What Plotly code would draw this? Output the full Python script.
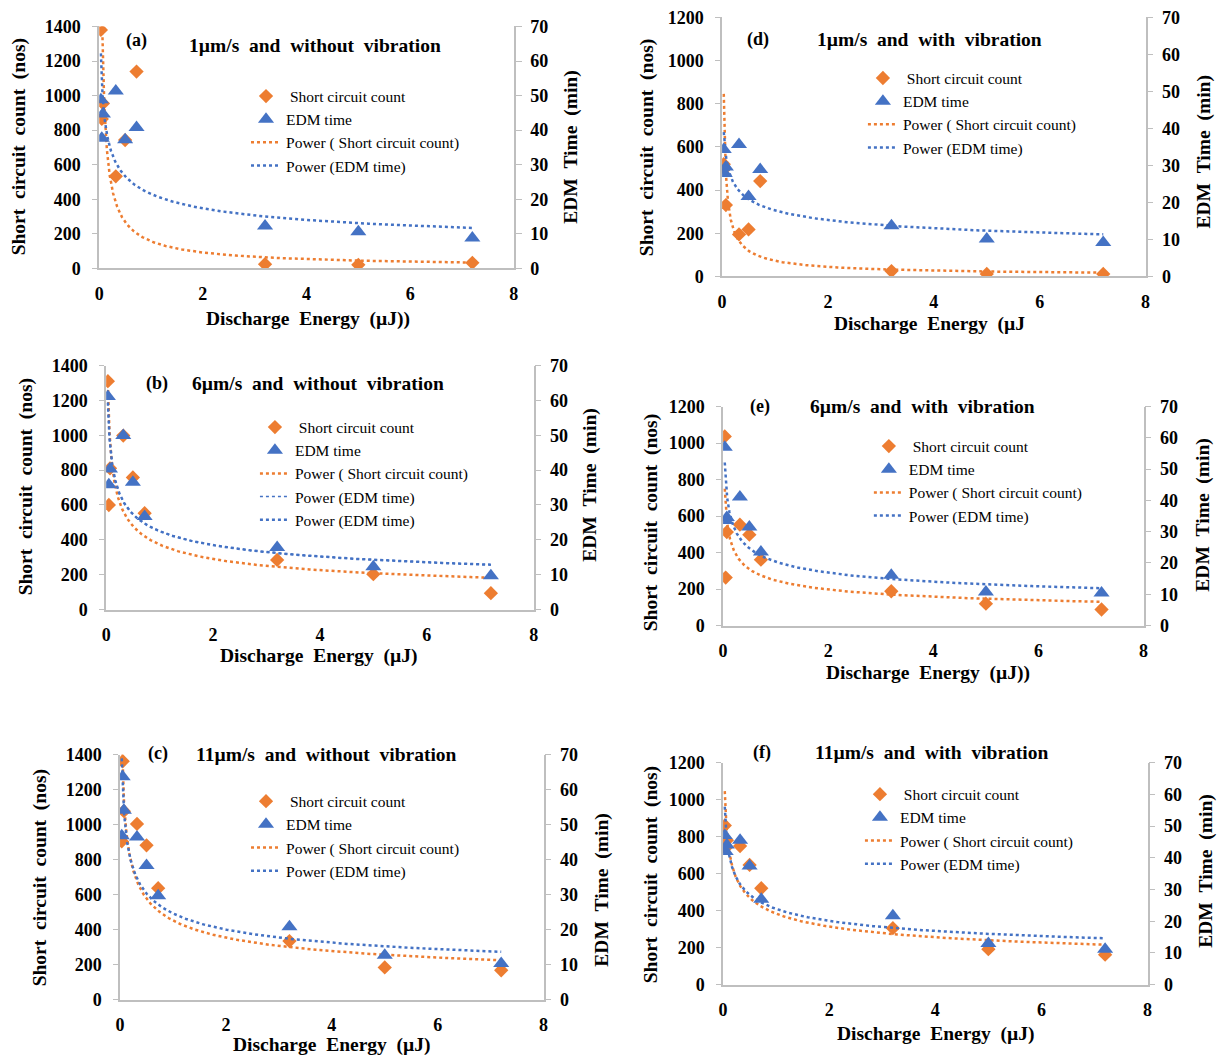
import numpy as np
import plotly.graph_objects as go

W, H = 1221, 1058

# ---------------- data ----------------
energy = [0.032, 0.05, 0.072, 0.32, 0.5, 0.72, 3.2, 5.0, 7.2]   # Discharge energy (uJ)

# (a) 1um/s without vibration
sc_a = [1380, 865, 955, 533, 743, 1139, 25, 21, 33]
edm_a = [48.8, 37.7, 44.7, 51.3, 37.2, 40.8, 12.3, 10.6, 8.8]
# (b) 6um/s without vibration
sc_b = [1310, 600, 810, 998, 758, 553, 285, 203, 94]
edm_b = [61.1, 35.8, 40.3, 49.9, 36.5, 26.7, 17.8, 12.3, 9.7]
# (c) 11um/s without vibration
sc_c = [905, 1362, 1077, 1004, 882, 637, 335, 184, 168]
edm_c = [46.8, 63.7, 54.1, 46.5, 38.3, 29.7, 20.8, 12.7, 10.3]
# (d) 1um/s with vibration
sc_d = [520, 500, 331, 195, 218, 442, 25, 12, 12]
edm_d = [34.3, 27.8, 29.6, 35.7, 21.6, 28.9, 13.7, 10.1, 9.2]
# (e) 6um/s with vibration
sc_e = [1036, 263, 512, 553, 498, 361, 188, 120, 88]
edm_e = [57.0, 33.6, 34.5, 41.1, 31.5, 23.5, 16.1, 10.7, 10.4]
# (f) 11um/s with vibration
sc_f = [860, 740, 780, 749, 647, 521, 305, 192, 162]
edm_f = [47.0, 42.0, 44.0, 45.5, 37.4, 26.9, 21.7, 13.0, 11.2]

panel_ids = ["a", "b", "c", "d", "e", "f"]
sc_series = [sc_a, sc_b, sc_c, sc_d, sc_e, sc_f]
edm_series = [edm_a, edm_b, edm_c, edm_d, edm_e, edm_f]
panel_labels = ["(a)", "(b)", "(c)", "(d)", "(e)", "(f)"]
SP = "\u2002"  # wide word gap as in the reference
panel_titles = ["1µm/s and without vibration", "6µm/s and without vibration",
                "11µm/s and without vibration", "1µm/s and with vibration",
                "6µm/s and with vibration", "11µm/s and with vibration"]
x_titles = ["Discharge Energy (µJ))", "Discharge Energy (µJ)", "Discharge Energy (µJ)",
            "Discharge Energy (µJ", "Discharge Energy (µJ))", "Discharge Energy (µJ)"]
left_max = [1400, 1400, 1400, 1200, 1200, 1200]
right_max = 70
left_title = "Short circuit count (nos)"
right_title = "EDM Time (min)"

# ---------------- geometry (pixels) ----------------
# plot rect: x0, x1, ytop, ybottom
rects = [(95, 513, 26, 268), (102, 533, 365, 609), (116, 543, 754, 999),
         (723, 1150, 17, 276), (724, 1148, 406, 625), (724, 1152, 762, 984)]
label_pos = [(133, 40), (153, 383), (154, 753), (759, 39), (761, 406), (763, 752)]
title_pos = [(313, 45), (316, 383), (324, 754), (932, 39), (925, 406), (935, 752)]
ltitle_pos = [(15, 146), (21, 486), (35, 877), (648, 147), (651, 522), (651, 874)]
rtitle_pos = [(571, 147), (589, 485), (602, 890), (1209, 152), (1207, 515), (1211, 871)]
xtitle_pos = [(305, 318), (317, 655), (330, 1044.5), (932, 323), (931, 672), (939, 1033)]
legend_pos = [(243, 79), (252, 410), (243, 784), (865, 61), (871, 429), (862, 777)]

ORANGE = "#ED7D31"
BLUE = "#4472C4"
AXIS_GRAY = "#BFBFBF"
SERIF = "Liberation Serif"


def px_x(x):
    return x / W


def px_y(y):
    y = y + (y - 500) * 0.0195
    return 1 - min(y, 1056) / H


def spaced(s):
    return s.replace(" ", SP)


def power_fit(x, y):
    lx, ly = np.log(np.asarray(x, float)), np.log(np.asarray(y, float))
    b, lna = np.polyfit(lx, ly, 1)
    xs = np.geomspace(min(x), max(x), 400)
    return xs, np.exp(lna) * xs ** b


fig = go.Figure()
layout = dict(
    width=W, height=H,
    margin=dict(l=0, r=0, t=0, b=0),
    paper_bgcolor="white", plot_bgcolor="rgba(0,0,0,0)",
    showlegend=True,
    font=dict(family=SERIF, color="black"),
)
annotations = []

tick_font = dict(family=SERIF, size=18, color="black", weight="bold")
title_font = dict(family=SERIF, size=19.5, color="black", weight="bold")


def add_text(text, pos, font, angle=0):
    annotations.append(dict(text=text, x=px_x(pos[0]), y=px_y(pos[1]),
                            xref="paper", yref="paper", showarrow=False,
                            xanchor="center", yanchor="middle", textangle=angle,
                            font=font))


for i, pid in enumerate(panel_ids):
    n = i + 1
    xa = f"x{n}" if n > 1 else "x"
    ya = 2 * i + 1
    yb = 2 * i + 2
    ya_ref = f"y{ya}" if ya > 1 else "y"
    yb_ref = f"y{yb}"
    leg = "legend" if n == 1 else f"legend{n}"
    x0, x1, yt, ybm = rects[i]

    layout[f"xaxis{n if n > 1 else ''}"] = dict(
        domain=[px_x(x0), px_x(x1)], anchor=ya_ref, range=[0, 8], dtick=2,
        showline=True, linecolor=AXIS_GRAY, linewidth=1.5, ticks="",
        showgrid=False, zeroline=False, tickfont=tick_font, ticklabelstandoff=8)
    layout[f"yaxis{ya if ya > 1 else ''}"] = dict(
        domain=[px_y(ybm), px_y(yt)], anchor=xa, range=[0, left_max[i]], dtick=200,
        showline=True, linecolor=AXIS_GRAY, linewidth=1.5, ticks="outside",
        ticklen=5, tickcolor=AXIS_GRAY, showgrid=False, zeroline=False,
        tickfont=tick_font, ticklabelstandoff=8)
    layout[f"yaxis{yb}"] = dict(
        domain=[px_y(ybm), px_y(yt)], anchor=xa, overlaying=ya_ref, side="right",
        range=[0, right_max], dtick=10, showline=True, linecolor=AXIS_GRAY,
        linewidth=1.5, ticks="outside", ticklen=6, tickcolor=AXIS_GRAY,
        showgrid=False, zeroline=False, tickfont=tick_font, ticklabelstandoff=5)

    lx, ly = legend_pos[i]
    layout[leg] = dict(x=px_x(lx), y=px_y(ly), xanchor="left", yanchor="top",
                       bgcolor="rgba(0,0,0,0)", itemwidth=30,
                       font=dict(family=SERIF, size=15.5, color="black"),
                       tracegroupgap=0, itemclick=False)

    sc = sc_series[i]
    edm = edm_series[i]
    fx, fy = power_fit(energy, sc)
    ex, ey = power_fit(energy, edm)

    # primary axis: short circuit count
    fig.add_trace(go.Scatter(x=fx, y=fy, mode="lines", name="Power ( Short circuit count)",
                             line=dict(color=ORANGE, width=2.5, dash="dot"),
                             xaxis=xa, yaxis=ya_ref, legend=leg, legendrank=3,
                             hoverinfo="skip"))
    fig.add_trace(go.Scatter(x=energy, y=sc, mode="markers", name=" Short circuit count",
                             marker=dict(symbol="diamond", size=11, color=ORANGE),
                             xaxis=xa, yaxis=ya_ref, legend=leg, legendrank=1))
    # secondary axis: EDM time
    if pid == "b":
        fig.add_trace(go.Scatter(x=ex, y=ey, mode="lines", name="Power (EDM time)",
                                 line=dict(color=BLUE, width=1.5, dash="dot"),
                                 xaxis=xa, yaxis=yb_ref, legend=leg, legendrank=4,
                                 hoverinfo="skip"))
    fig.add_trace(go.Scatter(x=ex, y=ey, mode="lines", name="Power (EDM time)",
                             line=dict(color=BLUE, width=2.5, dash="dot"),
                             xaxis=xa, yaxis=yb_ref, legend=leg, legendrank=5,
                             hoverinfo="skip"))
    fig.add_trace(go.Scatter(x=energy, y=edm, mode="markers", name="EDM time",
                             marker=dict(symbol="triangle-up", size=14, color=BLUE),
                             xaxis=xa, yaxis=yb_ref, legend=leg, legendrank=2))

    add_text(panel_labels[i], label_pos[i],
             dict(family=SERIF, size=18, color="black", weight="bold"))
    add_text(spaced(panel_titles[i]), title_pos[i],
             dict(family=SERIF, size=19.5, color="black", weight="bold"))
    add_text(spaced(left_title), ltitle_pos[i], title_font, -90)
    add_text(spaced(right_title), rtitle_pos[i], title_font, -90)
    add_text(spaced(x_titles[i]), xtitle_pos[i], title_font)

layout["annotations"] = annotations
fig.update_layout(**layout)
fig.write_html("out.html", config={"displayModeBar": False},
               post_script="document.body.style.margin='0';document.body.style.overflow='hidden';")
